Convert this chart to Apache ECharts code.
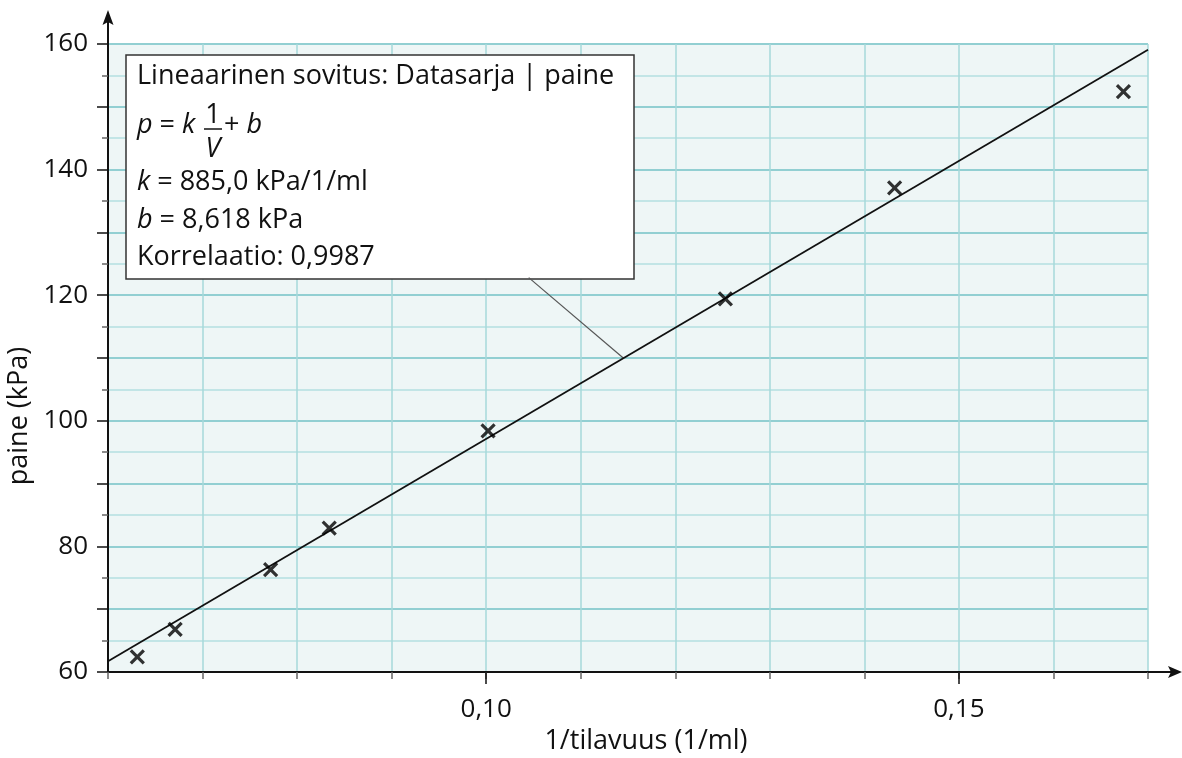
<!DOCTYPE html>
<html>
<head>
<meta charset="utf-8">
<script src="https://cdn.jsdelivr.net/npm/echarts@6/dist/echarts.min.js"></script>
<style>
  html, body { margin: 0; padding: 0; background: #fff; }
  #chart { width: 1182px; height: 758px; }
</style>
</head>
<body>
<div id="chart"></div>
<script>
const xValues = [0.0631, 0.0671, 0.0772, 0.0834, 0.1002, 0.1253, 0.1432, 0.1674]
const pValues = [62.4, 66.8, 76.3, 82.9, 98.4, 119.4, 137.1, 152.4]
const fitX = [0.06, 0.17]
const fitP = [61.7, 159.1]
const leaderX = [0.1045, 0.1145]
const leaderP = [122.8, 110.0]
const xTickLabels = [0.10, 0.15]
const yTickLabels = [60, 80, 100, 120, 140, 160]

const xMin = 0.06, xMax = 0.17, yMin = 60, yMax = 160
const font = 'Open Sans'

const chart = echarts.init(document.getElementById('chart'))

const pairs = (xs, ys) => xs.map((x, i) => [x, ys[i]])

const option = {
  animation: false,
  grid: {
    left: 108, right: 34, top: 44, bottom: 86,
    outerBoundsMode: 'none',
    containLabel: false,
    show: true,
    backgroundColor: '#eef6f6',
    borderWidth: 0
  },
  xAxis: [
    {
      type: 'value',
      min: xMin, max: xMax, interval: 0.01,
      name: '1/tilavuus (1/ml)',
      nameLocation: 'middle',
      nameGap: 56,
      nameTextStyle: { fontFamily: font, fontSize: 27, color: '#111', padding: [0, 0, 0, 36] },
      axisLine: { show: true, onZero: false, lineStyle: { color: '#111', width: 2 } },
      axisTick: { show: true, length: 7, lineStyle: { color: '#666', width: 1.5 } },
      axisLabel: {
        customValues: xTickLabels,
        margin: 25,
        fontFamily: font, fontSize: 26, color: '#111',
        formatter: v => v.toFixed(2).replace('.', ',')
      },
      splitLine: { show: true, lineStyle: { color: '#a6d8da', width: 1.5 } }
    },
    {
      type: 'value',
      min: xMin, max: xMax,
      position: 'bottom',
      axisLine: { show: false },
      axisTick: { show: true, customValues: xTickLabels, length: 12, lineStyle: { color: '#111', width: 1.5 } },
      axisLabel: { show: false },
      splitLine: { show: false }
    }
  ],
  yAxis: {
    type: 'value',
    min: yMin, max: yMax, interval: 10,
    name: 'paine (kPa)',
    nameLocation: 'middle',
    nameGap: 72,
    nameTextStyle: { fontFamily: font, fontSize: 27, color: '#111', padding: [0, 116, 0, 0] },
    axisLine: { show: true, onZero: false, lineStyle: { color: '#111', width: 2 } },
    axisTick: { show: true, length: 11, lineStyle: { color: '#111', width: 1.5 } },
    minorTick: { show: true, splitNumber: 2, length: 6, lineStyle: { color: '#666', width: 1.5 } },
    axisLabel: {
      margin: 20,
      fontFamily: font, fontSize: 26, color: '#111',
      formatter: v => (yTickLabels.includes(v) ? String(v) : '')
    },
    splitLine: { show: true, lineStyle: { color: '#92cfd2', width: 2 } },
    minorSplitLine: { show: true, lineStyle: { color: '#b4dfe1', width: 1.5 } }
  },
  series: [
    {
      name: 'sovitus',
      type: 'line',
      data: pairs(fitX, fitP),
      symbol: 'none',
      lineStyle: { color: '#111', width: 1.8 },
      z: 3
    },
    {
      name: 'viite',
      type: 'line',
      data: pairs(leaderX, leaderP),
      symbol: 'none',
      lineStyle: { color: '#555', width: 1.2 },
      z: 2
    },
    {
      name: 'Datasarja',
      type: 'scatter',
      data: pairs(xValues, pValues),
      symbol: 'path://M0,0L10,10M10,0L0,10',
      symbolSize: 13,
      itemStyle: { color: 'rgba(0,0,0,0)', borderColor: '#000', borderWidth: 3.2 },
      z: 4
    }
  ]
}

chart.setOption(option)

// axis arrows and the annotation box
const o = chart.convertToPixel({ gridIndex: 0 }, [xMin, yMin])
const tr = chart.convertToPixel({ gridIndex: 0 }, [xMax, yMax])
const ax = o[0], ay = o[1]

const txt = (x, y, rich, extra) => ({
  type: 'text', x, y,
  style: Object.assign({
    text: rich, fontFamily: font, fontSize: 27, fill: '#111', verticalAlign: 'middle',
    rich: { i: { fontStyle: 'italic', fontFamily: font, fontSize: 27 } }
  }, extra || {})
})

chart.setOption({
  graphic: [
    { type: 'line', shape: { x1: tr[0], y1: ay, x2: 1172, y2: ay }, style: { stroke: '#111', lineWidth: 2 }, z: 10 },
    { type: 'polygon', shape: { points: [[1168, ay - 6], [1182, ay], [1168, ay + 6], [1171, ay]] }, style: { fill: '#111' }, z: 10 },
    { type: 'line', shape: { x1: ax, y1: tr[1], x2: ax, y2: 22 }, style: { stroke: '#111', lineWidth: 2 }, z: 10 },
    { type: 'polygon', shape: { points: [[ax - 5.5, 25], [ax, 10], [ax + 5.5, 25], [ax, 22]] }, style: { fill: '#111' }, z: 10 },
    {
      type: 'group', z: 20,
      children: [
        { type: 'rect', shape: { x: 126, y: 55, width: 508, height: 224 }, style: { fill: '#fff', stroke: '#333', lineWidth: 1.5 } },
        txt(137, 76, 'Lineaarinen sovitus: Datasarja | paine'),
        txt(137, 125, '{i|p} = {i|k}'),
        txt(213, 115, '1', { align: 'center' }),
        { type: 'line', shape: { x1: 204, y1: 129, x2: 222, y2: 129 }, style: { stroke: '#111', lineWidth: 1.5 } },
        txt(213, 149, '{i|V}', { align: 'center' }),
        txt(224, 125, '+ {i|b}'),
        txt(137, 182, '{i|k} = 885,0 kPa/1/ml'),
        txt(137, 220, '{i|b} = 8,618 kPa'),
        txt(137, 257, 'Korrelaatio: 0,9987')
      ]
    }
  ]
})

window.onresize = function () {
  chart.resize()
}
</script>
</body>
</html>
